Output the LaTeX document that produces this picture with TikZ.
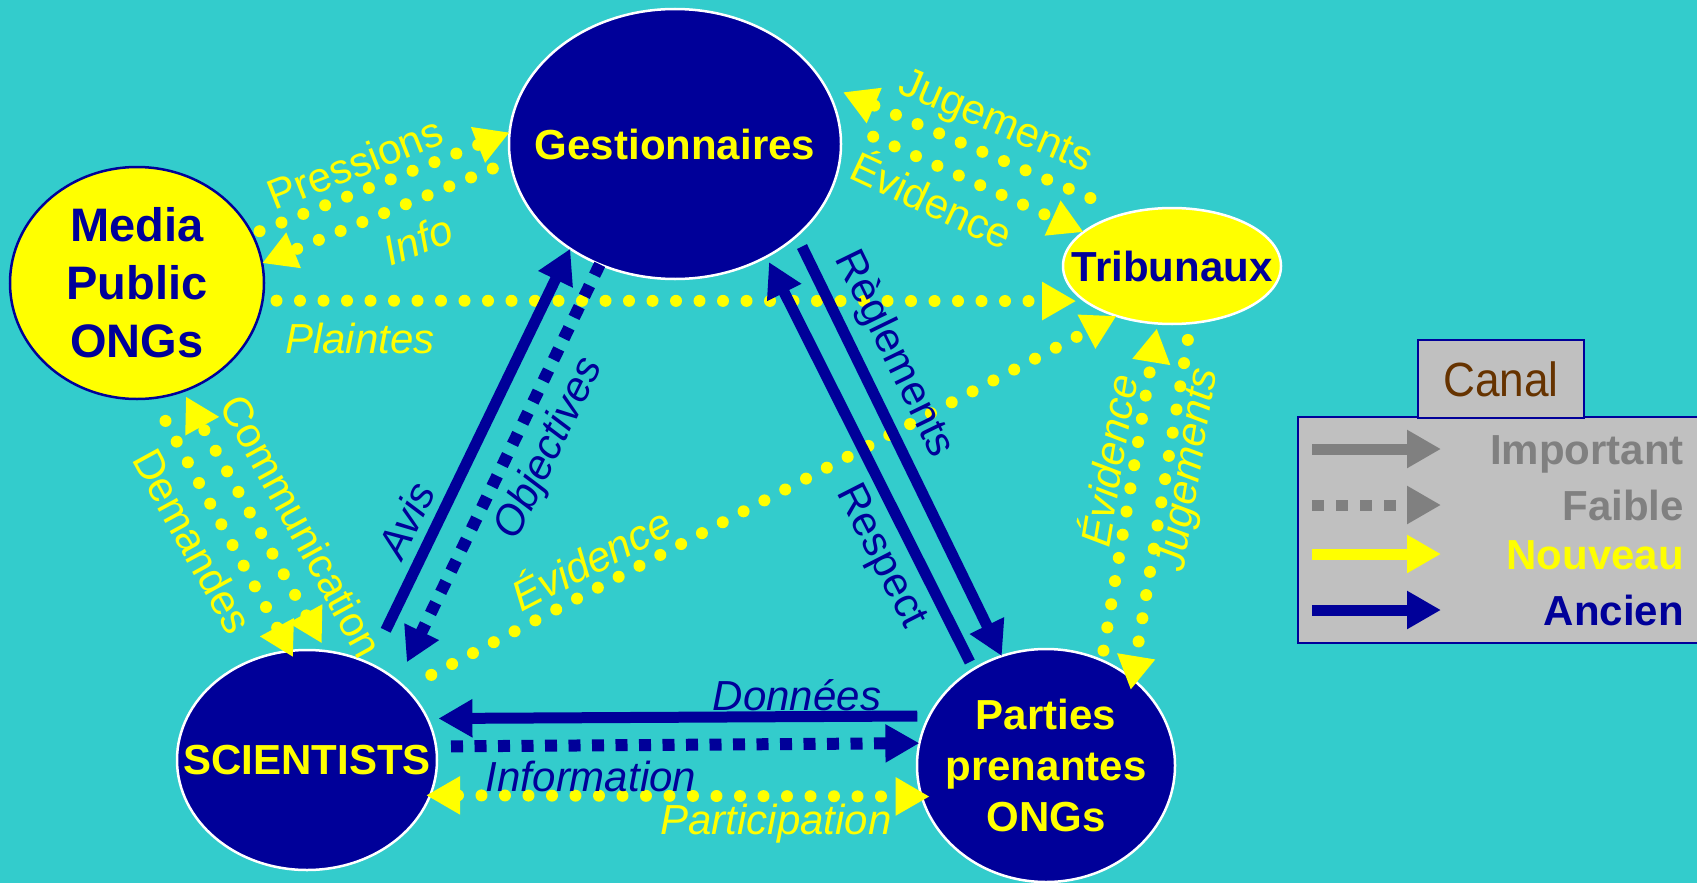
\documentclass[tikz,border=0pt]{standalone}
\usepackage{fontspec}
\setmainfont{Liberation Sans}
\usetikzlibrary{arrows.meta,shapes.geometric}
\definecolor{fond}{HTML}{33CCCC}
\definecolor{bleu}{HTML}{000099}
\definecolor{jaune}{HTML}{FFFF00}
\definecolor{gris}{HTML}{808080}
\definecolor{brun}{HTML}{663300}
\definecolor{boite}{HTML}{C0C0C0}

\begin{document}
\begin{tikzpicture}[x=1pt,y=-1pt,
    >={Triangle[length=34pt,width=36pt]},
    acteur/.style={ellipse,inner sep=0pt,outer sep=0pt,line width=2.5pt},
    gras/.style={font=\bfseries\fontsize{42}{51}\selectfont,align=center},
    etiq/.style={font=\fontsize{42}{50}\selectfont,inner sep=0pt},
    etiqit/.style={etiq,font=\itshape\fontsize{42}{50}\selectfont},
    nouveau/.style={draw=jaune,line width=12pt,line cap=round,dash pattern=on 0pt off 23.5pt,->},
    ancien/.style={draw=bleu,line width=11pt,->},
    ancienfaible/.style={draw=bleu,line width=12pt,dash pattern=on 12pt off 11.5pt,->},
    plein/.style={},
    pointille/.style={dash pattern=on 12pt off 12pt}]
 \useasboundingbox (0,0) rectangle (1697,883);
 \fill[fond] (0,0) rectangle (1697,883);

 \node[acteur,fill=bleu,draw=white,minimum width=332pt,minimum height=270pt,
   label={[gras,jaune]center:Gestionnaires}] (gest) at (675,144) {};
 \node[acteur,fill=jaune,draw=bleu,minimum width=254pt,minimum height=232pt,
   label={[gras,bleu,font=\bfseries\fontsize{47}{58}\selectfont]center:Media\\Public\\ONGs}] (media) at (137,283) {};
 \node[acteur,fill=jaune,draw=white,minimum width=218pt,minimum height=116pt,
   label={[gras,bleu]center:Tribunaux}] (trib) at (1172,266) {};
 \node[acteur,fill=bleu,draw=white,minimum width=260pt,minimum height=220pt,
   label={[gras,jaune]center:SCIENTISTS}] (sci) at (307,760) {};
 \node[acteur,fill=bleu,draw=white,minimum width=258pt,minimum height=233pt,
   label={[gras,jaune]center:Parties\\prenantes\\ONGs}] (parties) at (1046,765.5) {};

 \draw[nouveau,shorten <=8pt] (media.23.6) -- (gest.176);
 \draw[nouveau,shorten <=19pt] (gest.186.9) -- (media.9.3);
 \draw[nouveau,shorten <=14pt,shorten >=9pt] (media.-8.6) -- (trib.202.8);
 \draw[nouveau,shorten <=39pt,shorten >=21pt] (trib.131.2) -- (gest.22.1);
 \draw[nouveau,shorten <=38pt] (gest.8.7) -- (trib.159.1);
 \draw[nouveau,shorten <=29pt] (sci.36.5) -- (trib.222.2);
 \draw[nouveau,<->,shorten <=9pt,shorten >=6pt] (sci.80.9) -- (media.-67.5);
 \draw[nouveau,shorten <=26pt,shorten >=-7pt] (media.-82.8) -- (sci.99);
 \draw[nouveau,shorten <=10pt,shorten >=5pt] (parties.62.3) -- (trib.256.2);
 \draw[nouveau,shorten <=17pt,shorten >=-11pt] (trib.-72.8) -- (parties.45.5);
 \draw[nouveau,<->,shorten <=-4pt,shorten >=-8pt] (sci.-16.8) -- (parties.194.2);
 \draw[ancien,shorten <=37pt] (sci.57.4) -- (gest.225.1);
 \draw[ancienfaible,shorten >=21pt] (gest.238.5) -- (sci.41.7);
 \draw[ancien,shorten <=12pt] (gest.-37.1) -- (parties.112.3);
 \draw[ancien,shorten <=8pt,shorten >=6pt] (parties.127.6) -- (gest.-51.5);
 \draw[ancien,shorten <=12pt,shorten >=11pt] (parties.157.5) -- (sci.19.8);
 \draw[ancienfaible,shorten <=15pt] (sci.6.6) -- (parties.170.8);

 \node[etiq,jaune,rotate=21.5] (lpress) at (355,163) {Pressions};
 \node[etiqit,jaune,rotate=21.5] (linfo) at (418,240) {Info};
 \node[etiqit,jaune,anchor=base] (lplaint) at (360,353) {Plaintes};
 \node[etiq,jaune,rotate=-23] (ljug) at (995,123) {Jugements};
 \node[etiq,jaune,rotate=-25] (levid) at (933,198) {Évidence};
 \node[etiqit,jaune,rotate=27.6] (levsci) at (590,557) {Évidence};
 \node[etiq,jaune,rotate=-61.3] (lcomm) at (302,526) {Communication};
 \node[etiq,jaune,rotate=-61.3] (ldem) at (193,541) {Demandes};
 \node[etiqit,jaune,rotate=80.2] (levpart) at (1106,460) {Évidence};
 \node[etiqit,jaune,rotate=80.5] (ljugpart) at (1190,470) {Jugements};
 \node[etiqit,jaune,anchor=base] (lpart) at (776,834) {Participation};
 \node[etiqit,bleu,rotate=64] (lavis) at (406,520) {Avis};
 \node[etiqit,bleu,rotate=64] (lobj) at (550,449) {Objectives};
 \node[etiq,bleu,rotate=-64] (lregl) at (894,354) {Règlements};
 \node[etiq,bleu,rotate=-63] (lresp) at (880,557) {Respect};
 \node[etiqit,bleu,anchor=base] (ldonn) at (797,710) {Données};
 \node[etiqit,bleu,anchor=base] (linf) at (591,791) {Information};

 \node[draw=bleu,fill=boite,line width=2pt,minimum width=410pt,minimum height=226pt,
   anchor=north west] (legende) at (1297,416) {};
 \node[draw=bleu,fill=boite,line width=2pt,minimum width=166pt,minimum height=78pt,
   inner sep=0pt,font=\fontsize{48}{52}\selectfont,text=brun] (canal) at (1501,379) {\scalebox{0.92}[1]{Canal}};
 \foreach \y/\txt/\coul/\trait in {449/Important/gris/plein,505/Faible/gris/pointille,
                                   554/Nouveau/jaune/plein,610/Ancien/bleu/plein}{
   \coordinate (d\txt) at (1312,\y);
   \coordinate (f\txt) at (1441,\y);
   \draw[\coul,line width=11pt,\trait,->] (d\txt) -- (f\txt);
   \node[\coul,gras,anchor=base east,inner sep=0pt] (t\txt) at (1684,\y+15) {\txt};
 }
\end{tikzpicture}
\end{document}
